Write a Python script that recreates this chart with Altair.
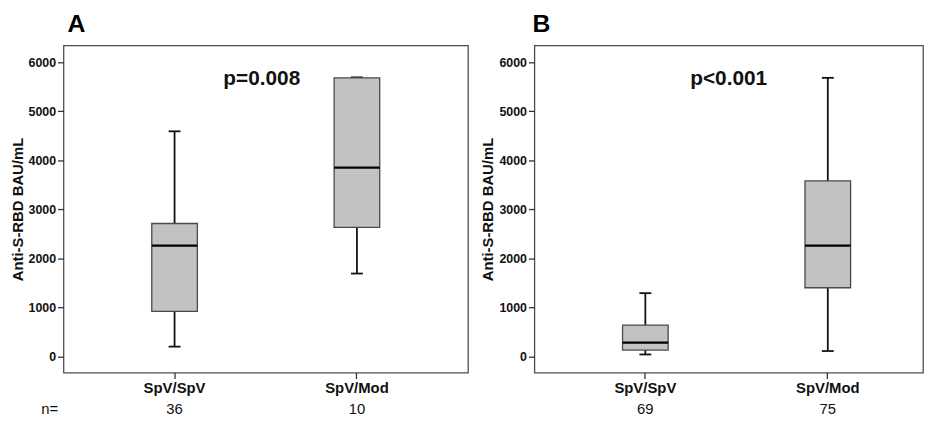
import altair as alt
import pandas as pd

# Panel A
groups = ["SpV/SpV", "SpV/Mod"]
a_min = [200, 1690]
a_q1 = [920, 2630]
a_med = [2260, 3850]
a_q3 = [2710, 5680]
a_max = [4590, 5690]
a_n = [36, 10]

# Panel B
b_min = [40, 110]
b_q1 = [130, 1400]
b_med = [280, 2260]
b_q3 = [640, 3580]
b_max = [1290, 5680]
b_n = [69, 75]

y_ticks = [0, 1000, 2000, 3000, 4000, 5000, 6000]
FONT = "Liberation Sans"
H = 330


def panel(letter, mins, q1s, meds, q3s, maxs, ns, ptext, width, pad_outer, align, show_n_label, title_dx):
    df = pd.DataFrame({"g": groups, "min": mins, "q1": q1s, "med": meds,
                       "q3": q3s, "max": maxs, "n": [str(v) for v in ns]})
    x = alt.X("g:N", sort=groups, title=None,
              scale=alt.Scale(paddingInner=0.75, paddingOuter=pad_outer, align=align),
              axis=alt.Axis(labelAngle=0, labelFontSize=15, labelFontWeight="bold", labelFont=FONT,
                            labelColor="#111", tickSize=6, tickColor="#333", tickWidth=1.3, domain=False,
                            labelPadding=2))
    yscale = alt.Scale(domain=[-330, 6340], nice=False, zero=False)
    y_axis = alt.Axis(values=y_ticks, format="d", grid=False, domain=False, tickSize=6, tickColor="#333",
                      tickWidth=1.3,
                      labelFontSize=12.5, labelFontWeight="bold", labelFont=FONT, labelColor="#111",
                      labelPadding=2, title="Anti-S-RBD BAU/mL", titleFontSize=15,
                      titleFontWeight="bold", titleFont=FONT, titleColor="#111", titlePadding=3)
    base = alt.Chart(df)
    whisk = base.mark_rule(color="#111", strokeWidth=1.8, opacity=1).encode(
        x=x, y=alt.Y("min:Q", scale=yscale, axis=y_axis), y2="max:Q")
    caps_lo = base.mark_tick(color="#111", size=12, thickness=1.8, orient="horizontal", opacity=1).encode(
        x=alt.X("g:N", sort=groups), y=alt.Y("min:Q"))
    caps_hi = base.mark_tick(color="#111", size=12, thickness=1.8, orient="horizontal", opacity=1).encode(
        x=alt.X("g:N", sort=groups), y=alt.Y("max:Q"))
    box = base.mark_bar(fill="#c2c2c2", stroke="#4a4a4a", strokeWidth=1.3, opacity=1).encode(
        x=alt.X("g:N", sort=groups), y=alt.Y("q1:Q"), y2="q3:Q")
    med = base.mark_tick(color="#000", size=46, thickness=2.2, orient="horizontal", opacity=1).encode(
        x=alt.X("g:N", sort=groups), y=alt.Y("med:Q"))
    nums = base.mark_text(fontSize=15, font=FONT, color="#111", baseline="middle").encode(
        x=alt.X("g:N", sort=groups), y=alt.value(H + 37), text="n:N")
    layers = [whisk, caps_lo, caps_hi, box, med, nums]
    ptxt = alt.Chart(pd.DataFrame({"t": [ptext], "v": [5650]})).mark_text(
        fontSize=21, fontWeight="bold", font=FONT, color="#111", baseline="middle").encode(
        x=alt.value(width / 2 - 4 if show_n_label else width / 2),
        y=alt.Y("v:Q"), text="t:N")
    layers.append(ptxt)
    if show_n_label:
        nl = alt.Chart(pd.DataFrame({"t": ["n="]})).mark_text(
            fontSize=15, font=FONT, color="#111", baseline="middle", align="center").encode(
            x=alt.value(-14), y=alt.value(H + 37), text="t:N")
        layers.append(nl)
    return alt.layer(*layers).properties(
        width=width, height=H,
        title=alt.TitleParams(letter, anchor="start", frame="group", fontSize=25, fontWeight="bold",
                              font=FONT, color="#000", offset=9, dx=title_dx))


pa = panel("A", a_min, a_q1, a_med, a_q3, a_max, a_n, "p=0.008", 408, 0.484, 0.5, True, 4)
pb = panel("B", b_min, b_q1, b_med, b_q3, b_max, b_n, "p<0.001", 392, 0.44, 0.549, False, -2)

chart = alt.hconcat(pa, pb, spacing=11).properties(
    padding={"left": 1, "top": 1, "right": 0, "bottom": 0}
).configure(background="white").configure_view(stroke="#4d4d4d", strokeWidth=1.3)

chart.save("out.html", embed_options={"renderer": "svg", "actions": False})
